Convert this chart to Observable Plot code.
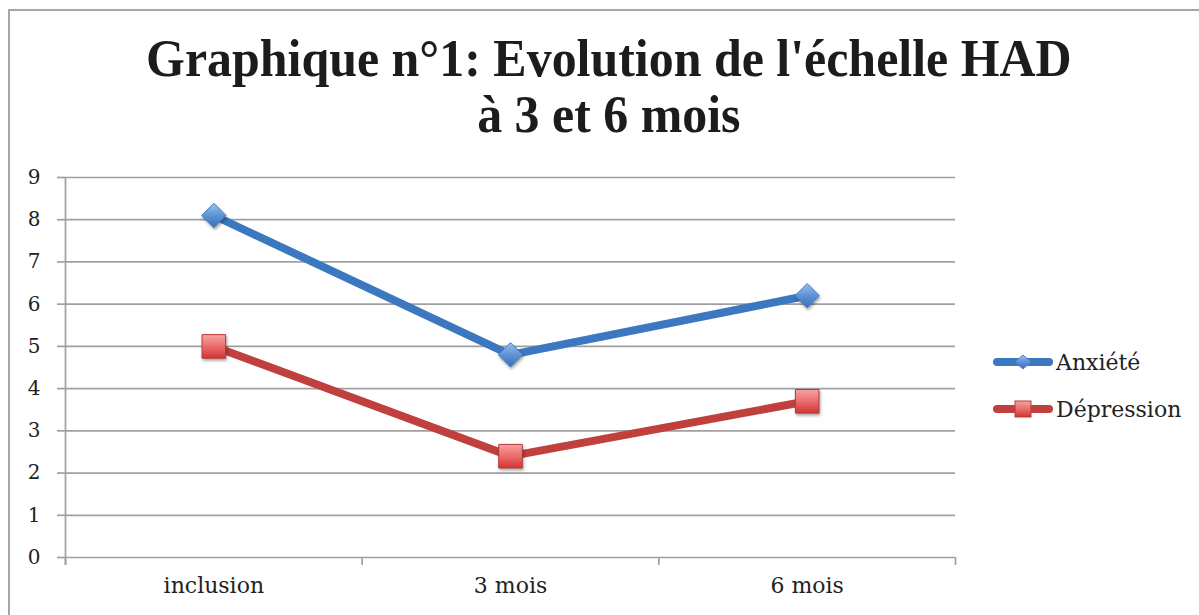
<!DOCTYPE html>
<html><head><meta charset="utf-8">
<script src="https://cdn.jsdelivr.net/npm/d3@7"></script>
<script src="https://cdn.jsdelivr.net/npm/@observablehq/plot@0.6"></script>
<style>
body{margin:0;background:#fff;width:1199px;height:615px;overflow:hidden;position:relative}
#frame{position:absolute;left:8px;top:9px;width:1300px;height:700px;border-left:2px solid #a6a6a6;border-top:2px solid #a6a6a6}
#title{position:absolute;left:9px;width:1199px;top:31px;text-align:center;font-family:"Liberation Serif",serif;font-weight:bold;font-size:52px;line-height:56px;color:#1c1c1c;transform:scaleX(0.96);transform-origin:608px 0}
#chart{position:absolute;left:0;top:160px}
#chart g[aria-label="dot"] path{filter:drop-shadow(1px 2px 1.5px rgba(0,0,0,0.35))}
.leg{position:absolute;left:990px;height:24px;display:flex;align-items:center;font-family:"DejaVu Serif",serif;font-size:22px;color:#222}
.leg svg{margin-right:2px}
</style></head>
<body>
<div id="frame"></div>
<div id="title">Graphique n°1: Evolution de l'échelle HAD<br>à 3 et 6 mois</div>
<div id="chart"></div>
<div id="legend"></div>
<script>
const categories = ["inclusion", "3 mois", "6 mois"];
const seriesNames = ["Anxiété", "Dépression"];
const anxiete = [8.1, 4.8, 6.2];
const depression = [5.0, 2.4, 3.7];
const yTicks = [0, 1, 2, 3, 4, 5, 6, 7, 8, 9];
const colors = ["#3b78bf", "#c0403e"];

const data = categories.flatMap((c, i) => [
  {serie: seriesNames[0], i, c, v: anxiete[i]},
  {serie: seriesNames[1], i, c, v: depression[i]}
]);
const boundaries = d3.range(categories.length + 1).map(k => k - 0.5);

const defs = () => {
  const s = d3.create("svg:defs");
  const gb = s.append("linearGradient").attr("id", "gBlue").attr("x1", 0).attr("y1", 0).attr("x2", 0).attr("y2", 1);
  gb.append("stop").attr("offset", "0%").attr("stop-color", "#9cc0ec");
  gb.append("stop").attr("offset", "50%").attr("stop-color", "#5d93d6");
  gb.append("stop").attr("offset", "100%").attr("stop-color", "#3a6fb4");
  const gr = s.append("linearGradient").attr("id", "gRed").attr("x1", 0).attr("y1", 0).attr("x2", 0).attr("y2", 1);
  gr.append("stop").attr("offset", "0%").attr("stop-color", "#f5a3a3");
  gr.append("stop").attr("offset", "50%").attr("stop-color", "#ec6c6c");
  gr.append("stop").attr("offset", "100%").attr("stop-color", "#d23434");
  return s.node();
};

const grid = "#a0a0a0";
const chart = Plot.plot({
  width: 1199, height: 455,
  marginLeft: 65, marginRight: 244, marginTop: 17, marginBottom: 58,
  style: {fontFamily: "DejaVu Serif, serif", color: "#222", background: "transparent"},
  x: {type: "linear", domain: [-0.5, categories.length - 0.5]},
  y: {domain: [0, 9]},
  color: {domain: seriesNames, range: colors},
  marks: [
    defs,
    Plot.gridY(yTicks, {stroke: grid, strokeOpacity: 1, strokeWidth: 1.7}),
    Plot.axisY({ticks: yTicks, tickSize: 8, tickPadding: 17, stroke: grid, strokeWidth: 1.7, fontSize: 20, label: null, tickFormat: d => d}),
    Plot.ruleX([boundaries[0]], {stroke: grid, strokeWidth: 1.7, insetBottom: -8}),
    Plot.axisX({ticks: boundaries, tickSize: 8, stroke: grid, strokeWidth: 1.7, tickFormat: () => "", label: null}),
    Plot.axisX({ticks: d3.range(categories.length), tickSize: 0, tickPadding: 20, fontSize: 22, tickFormat: i => categories[i], label: null}),
    Plot.line(data, {x: "i", y: "v", z: "serie", stroke: "serie", strokeWidth: 8, strokeLinejoin: "miter", strokeLinecap: "butt"}),
    Plot.dot(data.filter(d => d.serie === seriesNames[0]), {x: "i", y: "v", symbol: "diamond2", r: 11, fill: "url(#gBlue)", stroke: "#4a7fc0", strokeWidth: 1}),
    Plot.dot(data.filter(d => d.serie === seriesNames[1]), {x: "i", y: "v", symbol: "square", r: 13.3, fill: "url(#gRed)", stroke: "#b73a3a", strokeWidth: 1})
  ]
});
document.getElementById("chart").appendChild(chart);

// legend
const legend = document.getElementById("legend");
const legTops = [350, 397];
seriesNames.forEach((name, k) => {
  const row = document.createElement("div");
  row.className = "leg";
  row.style.top = legTops[k] + "px";
  const marker = k === 0
    ? '<path d="M33,5 L41,12 L33,19 L25,12 Z" fill="url(#gBlue)" stroke="#4a7fc0" stroke-width="1"/>'
    : '<rect x="25" y="4" width="16" height="16" fill="url(#gRed)" stroke="#b73a3a" stroke-width="1"/>';
  row.innerHTML = `<svg width="64" height="24"><line x1="7" y1="12" x2="59" y2="12" stroke="${colors[k]}" stroke-width="8" stroke-linecap="round"/>${marker}</svg><span>${name}</span>`;
  legend.appendChild(row);
});
</script>
</body></html>
